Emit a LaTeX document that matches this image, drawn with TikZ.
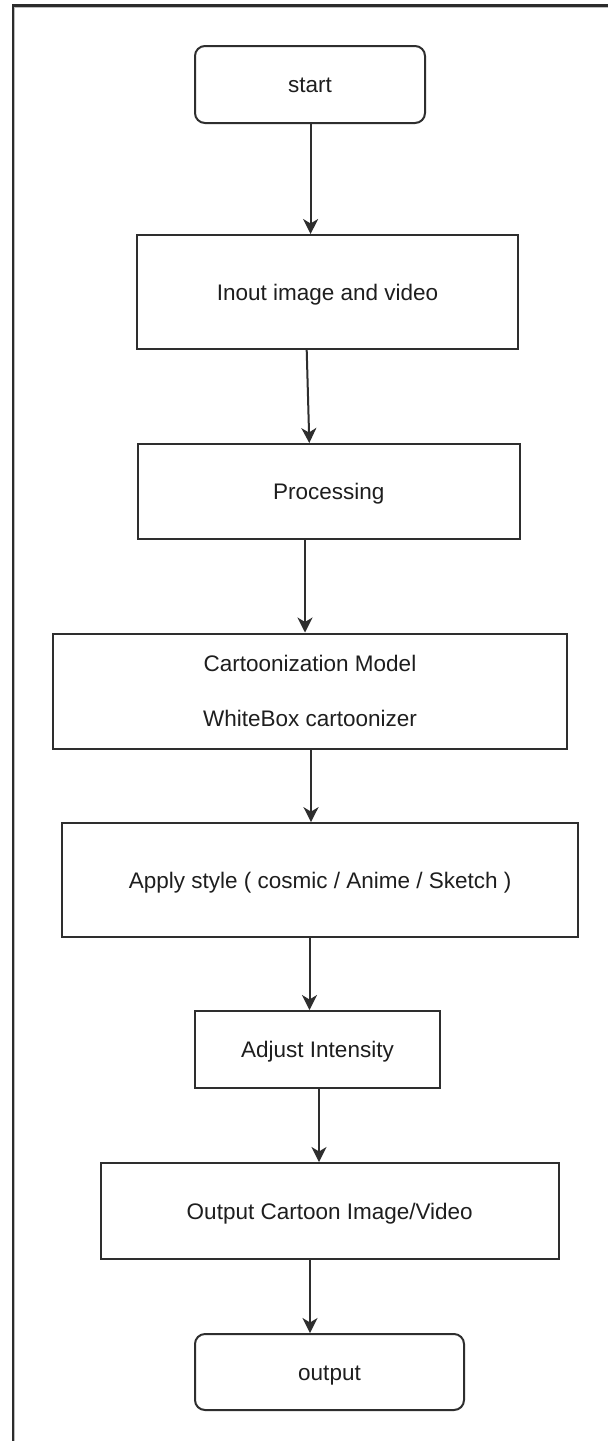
\documentclass[tikz,border=0pt]{standalone}
\usepackage{fontspec}
\setmainfont{Liberation Sans}
\usetikzlibrary{arrows.meta,calc}
\definecolor{linec}{HTML}{2E2E2E}
\definecolor{textc}{HTML}{1E1E1E}
\definecolor{framec}{HTML}{2B2B2B}
\definecolor{shadec}{HTML}{BDBDBD}
\begin{document}
\begin{tikzpicture}[x=1pt,y=-1pt,
  box/.style={draw=linec, line width=2pt, fill=white, inner sep=0pt, text=textc,
    font=\fontsize{22.5}{27}\selectfont},
  oneline/.style={text height=16pt, text depth=0pt},
  term/.style={box, oneline, rounded corners=10pt},
  stepbox/.style={box, oneline},
  arr/.style={draw=linec, line width=2pt, -{Stealth[length=15pt,width=15pt,inset=4.5pt]}}
]
\useasboundingbox (0,0) rectangle (608,1441);
\fill[white] (0,0) rectangle (608,1441);
% frame lines
\fill[framec] (12,4) rectangle (608,7.3);
\fill[framec] (12,4) rectangle (14,1441);
\fill[shadec] (14,7.3) rectangle (608,8.3);
\fill[shadec] (14,7.3) rectangle (15,1441);

% nodes
\node[term, minimum width=230pt, minimum height=77pt] (start) at (310,84.5) {start};
\node[stepbox, minimum width=381pt, minimum height=114pt] (inout) at (327.5,292) {Inout image and video};
\node[stepbox, minimum width=381.5pt, minimum height=95pt] (proc) at (328.75,491.5) {Processing};
\node[box, align=center, minimum width=514pt, minimum height=115pt] (cart) at (310,691)
  {Cartoonization Model\\[28pt]WhiteBox cartoonizer};
\node[stepbox, minimum width=515.6pt, minimum height=113.7pt] (apply) at (320.2,880)
  {Apply style ( cosmic / Anime / Sketch )};
\node[stepbox, minimum width=245pt, minimum height=77pt] (adjust) at (317.5,1049.5) {Adjust Intensity};
\node[stepbox, minimum width=457.5pt, minimum height=96pt] (outc) at (329.75,1211) {Output Cartoon Image/Video};
\node[term, minimum width=269pt, minimum height=76pt] (out) at (329.5,1372) {output};

% connectors
\draw[arr] ([xshift=0.6pt]start.south) -- ([xshift=0.6pt]start.south |- inout.north);
\draw[arr] ([xshift=-20.8pt]inout.south) -- ([xshift=-19.45pt]proc.north);
\draw[arr] ([xshift=-23.75pt]proc.south) -- ([xshift=-23.75pt]proc.south |- cart.north);
\draw[arr] ([xshift=1pt]cart.south) -- ([xshift=1pt]cart.south |- apply.north);
\draw[arr] ([xshift=-10.7pt]apply.south) -- ([xshift=-10.7pt]apply.south |- adjust.north);
\draw[arr] ([xshift=1.5pt]adjust.south) -- ([xshift=1.5pt]adjust.south |- outc.north);
\draw[arr] ([xshift=-19.75pt]outc.south) -- ([xshift=-19.75pt]outc.south |- out.north);
\end{tikzpicture}
\end{document}
